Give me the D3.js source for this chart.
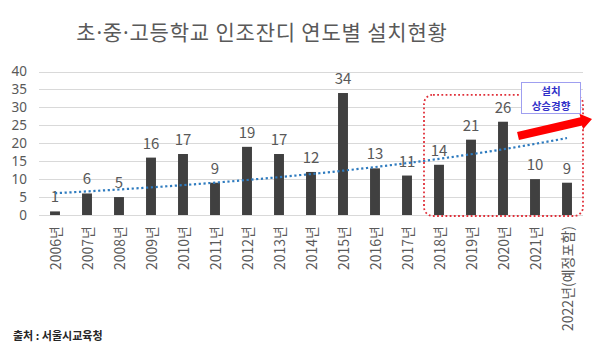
<!DOCTYPE html>
<html>
<head>
<meta charset="utf-8">
<script src="https://cdn.jsdelivr.net/npm/d3@7"></script>
<style>
  html, body { margin: 0; padding: 0; background: #fff; }
  svg { display: block; font-family: "Noto Sans CJK KR", "Noto Sans", sans-serif; }
</style>
</head>
<body>
<svg id="chart" width="600" height="348"></svg>
<script>
// 연도별 인조잔디 설치 학교 수
const years = ["2006년","2007년","2008년","2009년","2010년","2011년","2012년","2013년","2014년",
               "2015년","2016년","2017년","2018년","2019년","2020년","2021년","2022년(예정포함)"];
const counts = [1, 6, 5, 16, 17, 9, 19, 17, 12, 34, 13, 11, 14, 21, 26, 10, 9];
const yTicks = [0, 5, 10, 15, 20, 25, 30, 35, 40];
const titleText = "초·중·고등학교 인조잔디 연도별 설치현황";
const sourceText = "출처  :  서울시교육청";
const noteLines = ["설치", "상승경향"];
const highlightFrom = "2018년";

const svg = d3.select("#chart");
const margin = { left: 39, right: 17, top: 71.5, bottom: 133 };
const W = 600, H = 348;

const x = d3.scaleBand().domain(years).range([margin.left, W - margin.right]).paddingInner(0.69).paddingOuter(0.345);
const y = d3.scaleLinear().domain([0, 40]).range([H - margin.bottom, margin.top]);

// title: the middle dots are set in a Latin face so they stay narrow
const title = svg.append("text")
  .attr("x", 262).attr("y", 40)
  .attr("text-anchor", "middle")
  .attr("font-size", 21).attr("letter-spacing", 0.8).attr("fill", "#595959");
titleText.split(/(·)/).forEach(part => {
  const t = title.append("tspan").text(part);
  if (part === "·") t.attr("font-family", "\"Noto Sans\", sans-serif");
});

// gridlines
svg.append("g").selectAll("line").data(yTicks).join("line")
  .attr("x1", margin.left).attr("x2", W - margin.right)
  .attr("y1", d => Math.round(y(d)) + 0.5).attr("y2", d => Math.round(y(d)) + 0.5)
  .attr("stroke", "#d9d9d9").attr("stroke-width", 1);

// y axis labels
const yAxis = d3.axisLeft(y).tickValues(yTicks).tickSize(0).tickPadding(0);
const gy = svg.append("g").attr("transform", `translate(${margin.left - 12},0)`).call(yAxis);
gy.select(".domain").remove();
gy.selectAll("text").attr("font-size", 13.5).attr("fill", "#595959")
  .attr("font-family", "\"Noto Sans\", sans-serif");

// bars
svg.append("g").selectAll("rect").data(counts).join("rect")
  .attr("x", (d, i) => x(years[i]))
  .attr("width", x.bandwidth())
  .attr("y", d => y(d))
  .attr("height", d => y(0) - y(d))
  .attr("fill", "#404040");

// value labels
svg.append("g").selectAll("text").data(counts).join("text")
  .attr("x", (d, i) => x(years[i]) + x.bandwidth() / 2)
  .attr("y", d => y(d) - 9)
  .attr("text-anchor", "middle")
  .attr("font-size", 15).attr("fill", "#595959")
  .text(d => d);

// x axis labels (rotated)
const xAxis = d3.axisBottom(x).tickSize(0).tickPadding(0);
const gx = svg.append("g").attr("transform", `translate(0,${y(0)})`).call(xAxis);
gx.select(".domain").remove();
gx.selectAll("text")
  .attr("font-size", 14).attr("fill", "#595959")
  .attr("font-family", "\"Noto Sans CJK KR\", sans-serif")
  .attr("text-anchor", "end")
  .attr("dy", null)
  .attr("dominant-baseline", "central")
  .attr("transform", "translate(0,11) rotate(-90)");

// exponential trend line fitted on ln(count)
const idx = counts.map((d, i) => i);
const lnv = counts.map(d => Math.log(d));
const mx = d3.mean(idx), my = d3.mean(lnv);
const b = d3.sum(idx, i => (i - mx) * (lnv[i] - my)) / d3.sum(idx, i => (i - mx) * (i - mx));
const a = my - b * mx;
const step = x.step();
const cx0 = x(years[0]) + x.bandwidth() / 2;
const trendPts = d3.range(0, counts.length - 1 + 1e-9, 0.25).map(t => [cx0 + t * step, y(Math.exp(a + b * t))]);
svg.append("path")
  .attr("d", d3.line()(trendPts))
  .attr("fill", "none")
  .attr("stroke", "#2e7bbf").attr("stroke-width", 2.2)
  .attr("stroke-dasharray", "2.2,2.6");

// highlighted period box
const bx0 = x(highlightFrom) - x.step() * x.paddingInner() / 2 + 1;
const bx1 = W - margin.right;
const by0 = y(33.5), by1 = y(0) + 1;
svg.append("rect")
  .attr("x", bx0).attr("y", by0)
  .attr("width", bx1 - bx0).attr("height", by1 - by0)
  .attr("rx", 9).attr("ry", 9)
  .attr("fill", "none").attr("stroke", "#e0303a").attr("stroke-width", 1.8)
  .attr("stroke-dasharray", "1.8,2.4");

// rising arrow
const ax0 = 518, ay0 = 136, ax1 = 592, ay1 = 119;
const ang = Math.atan2(ay1 - ay0, ax1 - ax0);
const len = Math.hypot(ax1 - ax0, ay1 - ay0);
const headL = 11, headW = 8, shaftW = 4.2;
svg.append("path")
  .attr("transform", `translate(${ax0},${ay0}) rotate(${ang * 180 / Math.PI})`)
  .attr("d", `M0,${-shaftW} L${len - headL},${-shaftW} L${len - headL},${-headW} L${len},0 L${len - headL},${headW} L${len - headL},${shaftW} L0,${shaftW} Z`)
  .attr("fill", "#ff0000");

// note box
const nb = { x: 521, y: 82, w: 59, h: 31 };
svg.append("rect")
  .attr("x", nb.x + 0.5).attr("y", nb.y + 0.5).attr("width", nb.w).attr("height", nb.h)
  .attr("fill", "#fff").attr("stroke", "#9f9ff0").attr("stroke-width", 1);
svg.append("text")
  .attr("x", nb.x + nb.w / 2 + 0.5)
  .attr("y", nb.y + 13)
  .attr("text-anchor", "middle")
  .attr("font-size", 10.5).attr("font-weight", "bold").attr("fill", "#3030c8")
  .selectAll("tspan").data(noteLines).join("tspan")
  .attr("x", nb.x + nb.w / 2 + 0.5)
  .attr("dy", (d, i) => i === 0 ? 0 : 14.5)
  .text(d => d);

// source
svg.append("text")
  .attr("x", 13).attr("y", 340)
  .attr("font-size", 11).attr("font-weight", "bold").attr("fill", "#262626")
  .text(sourceText);
</script>
</body>
</html>
